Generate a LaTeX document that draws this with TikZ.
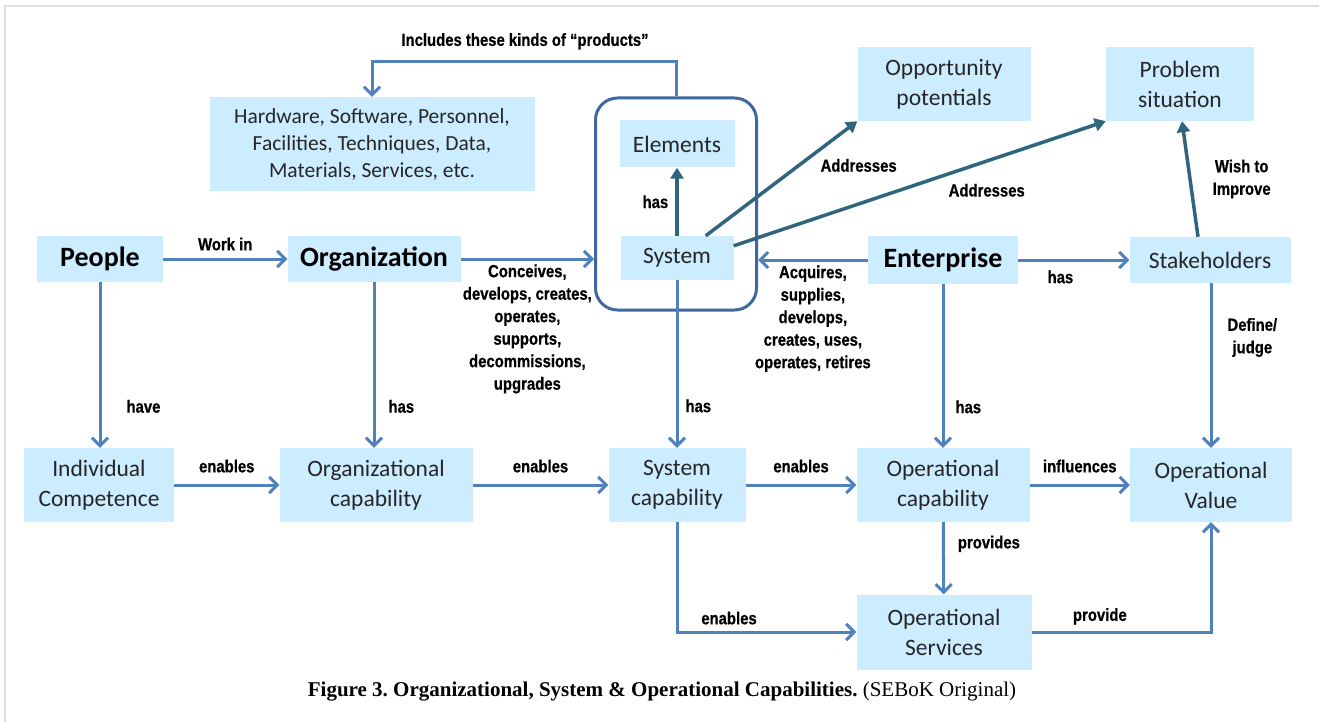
\documentclass[tikz,border=0pt]{standalone}
\usepackage{fontspec}
\setmainfont{Carlito}
\newfontfamily\lblfont[FakeStretch=0.85,FakeBold=0.6]{Liberation Sans}
\newfontfamily\capfont{Liberation Serif}
\usetikzlibrary{arrows.meta}
\definecolor{boxcol}{RGB}{204,236,255}
\definecolor{flowcol}{RGB}{79,129,189}
\definecolor{addrcol}{RGB}{49,101,125}
\definecolor{framecol}{RGB}{63,103,160}
\definecolor{txtcol}{RGB}{38,38,38}
\frenchspacing

\begin{document}
\begin{tikzpicture}[x=1pt,y=-1pt,
  flow/.style={-{Straight Barb[length=8pt,width=16pt]},line width=3pt,flowcol},
  addr/.style={-{Triangle[length=11pt,width=13pt]},line width=3.5pt,addrcol},
  box/.style={fill=boxcol,text=txtcol,inner sep=0pt,align=center,
              font=\fontsize{23.5}{30}\selectfont},
  bigbox/.style={box,text=black,font=\bfseries\fontsize{28}{30}\selectfont},
  lbl/.style={text=black,font=\lblfont\bfseries\fontsize{17.5}{22.5}\selectfont,align=center,inner sep=1pt},
]
  \useasboundingbox (0,0) rectangle (1319,722);
  \draw[black!13,line width=2pt] (5,722) -- (5,6) -- (1319,6);

  % --- top row ---
  \node[box,minimum width=325,minimum height=94,font=\fontsize{21.5}{27}\selectfont]
    (hw) at (372,144) {Hardware, Software, Personnel,\\Facilities, Techniques, Data,\\Materials, Services, etc.};
  \node[box,minimum width=161,minimum height=212,fill=none,draw=framecol,line width=3pt,
        rounded corners=22pt] (sysframe) at (676,204) {};
  \node[box,minimum width=115,minimum height=47] (elem) at (677,144) {Elements};
  \node[box,minimum width=173,minimum height=74] (opp) at (944,84) {Opportunity\\potentials};
  \node[box,minimum width=148,minimum height=74] (prob) at (1180,84) {Problem\\situation};

  % --- middle row ---
  \node[bigbox,minimum width=126,minimum height=46] (people) at (100,259) {People};
  \node[bigbox,minimum width=173,minimum height=46] (org) at (374,259) {Organization};
  \node[box,minimum width=113,minimum height=44] (sys) at (677,258) {System};
  \node[bigbox,minimum width=150,minimum height=48] (ent) at (943,260) {Enterprise};
  \node[box,minimum width=161,minimum height=46] (stake) at (1210,260) {Stakeholders};

  % --- capabilities ---
  \node[box,minimum width=150,minimum height=74] (indiv) at (99,485) {Individual\\Competence};
  \node[box,minimum width=193,minimum height=74] (orgcap) at (376,485) {Organizational\\capability};
  \node[box,minimum width=137,minimum height=74] (syscap) at (677,485) {System\\capability};
  \node[box,minimum width=173,minimum height=74] (opcap) at (943,485) {Operational\\capability};
  \node[box,minimum width=162,minimum height=74] (opval) at (1211,485) {Operational\\Value};
  \node[box,minimum width=175,minimum height=75] (opserv) at (944,632) {Operational\\Services};

  % --- connectors ---
  \coordinate (incl) at (525,62);
  \draw[flow] (sysframe.north) |- (incl) node[lbl,above=10pt] {Includes these kinds of “products”} -| (hw);
  \draw[flow] (people) -- node[lbl,above=6pt] {Work in} (org);
  \draw[flow] (org) -- node[lbl,below=3pt] {Conceives,\\develops, creates,\\operates,\\supports,\\decommissions,\\upgrades} (org -| sysframe.west);
  \draw[flow] (ent) -- node[lbl,below=3pt] {Acquires,\\supplies,\\develops,\\creates, uses,\\operates, retires} (ent -| sysframe.east);
  \draw[flow] (ent) -- node[lbl,pos=0.38,below=8pt] {has} (stake);

  \draw[addr] (sys) -- node[lbl,left=6pt] {has} (elem);
  \draw[addr] ([xshift=-28pt]sys.north east) -- node[lbl,pos=0.72,below right=3pt] {Addresses} (opp.south west);
  \draw[addr] ([yshift=-10pt]sys.north east) -- node[lbl,pos=0.68,below=20pt] {Addresses} (prob.south west);
  \draw[addr] ([xshift=-12pt]stake.north) -- node[lbl,right=20pt] {Wish to\\Improve} ([xshift=2pt]prob.south);

  \draw[flow] (people) -- node[lbl,pos=0.75,right=24pt] {have} (people |- indiv.north);
  \draw[flow] (org) -- node[lbl,pos=0.75,right=12pt] {has} (org |- orgcap.north);
  \draw[flow] (sys) -- node[lbl,pos=0.75,right=6pt] {has} (syscap);
  \draw[flow] (ent) -- node[lbl,pos=0.75,right=10pt] {has} (opcap);
  \draw[flow] (stake.south -| opval) -- node[lbl,pos=0.33,right=14pt] {Define/\\judge} (opval);

  \draw[flow] (indiv) -- node[lbl,above=10pt] {enables} (orgcap);
  \draw[flow] (orgcap) -- node[lbl,above=10pt] {enables} (syscap);
  \draw[flow] (syscap) -- node[lbl,above=10pt] {enables} (opcap);
  \draw[flow] (opcap) -- node[lbl,above=10pt] {influences} (opval);
  \draw[flow] (opcap) -- node[lbl,pos=0.3,right=12pt] {provides} (opserv);
  \draw[flow] (syscap) |- node[lbl,pos=0.645,above=5pt] {enables} (opserv);
  \draw[flow] (opserv) -| node[lbl,pos=0.19,above=5pt] {provide} (opval);

  % --- caption ---
  \node[font=\capfont\fontsize{21}{24}\selectfont] (caption) at (662,692)
    {\textbf{Figure 3. Organizational, System \& Operational Capabilities.} (SEBoK Original)};
\end{tikzpicture}
\end{document}
